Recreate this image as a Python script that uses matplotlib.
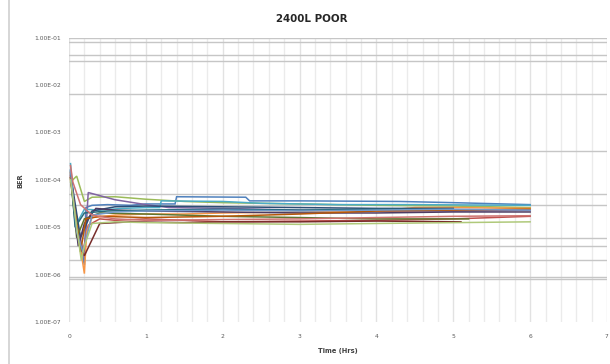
import matplotlib
matplotlib.use("Agg")
import matplotlib.pyplot as plt
from matplotlib.ticker import FixedLocator, FuncFormatter, MultipleLocator, NullFormatter
from matplotlib.lines import Line2D

# BER traces per test run: (hours, BER)
run_times = [
    [0.02, 0.08, 0.15, 0.2, 0.22, 0.3, 0.5, 0.8, 1.0, 1.38, 1.4, 2.3, 2.35, 3.0, 4.3, 5.0, 6.0],
    [0.02, 0.1, 0.18, 0.25, 0.4, 0.6, 1.0, 1.5, 2.0, 3.0, 4.0, 5.0, 6.0],
    [0.02, 0.1, 0.2, 0.3, 0.6, 1.0, 1.5, 2.0, 3.0, 4.0, 5.0, 6.0],
    [0.02, 0.1, 0.2, 0.25, 0.6, 1.0, 1.3, 2.0, 3.0, 4.0, 5.0, 6.0],
    [0.02, 0.05, 0.1, 0.2, 0.4, 0.7, 1.0, 1.18, 1.2, 2.0, 2.5, 3.5, 4.5, 6.0],
    [0.02, 0.1, 0.2, 0.23, 0.3, 0.6, 1.0, 1.5, 2.0, 3.0, 4.0, 4.5, 5.0, 6.0],
    [0.02, 0.15, 0.3, 0.6, 1.0, 2.0, 3.0, 4.0, 5.0],
    [0.02, 0.12, 0.2, 0.4, 0.8, 1.5, 2.0, 3.0, 4.0, 5.1],
    [0.02, 0.1, 0.2, 0.4, 1.0, 2.0, 3.0, 4.0, 5.2],
    [0.02, 0.12, 0.2, 0.35, 0.6, 1.0, 2.0, 3.0, 4.0, 5.0, 6.0],
    [0.02, 0.08, 0.2, 0.5, 1.0, 2.0, 3.0, 4.0, 5.0],
    [0.02, 0.15, 0.22, 0.4, 1.0, 2.0, 3.0, 4.0, 5.0, 6.0],
    [0.02, 0.1, 0.18, 0.3, 0.6, 1.0, 2.0, 3.0, 4.0, 5.0, 6.0],
    [0.02, 0.05, 0.15, 0.3, 0.6, 1.0, 2.0, 3.0, 4.0, 5.0, 6.0],
    [0.02, 0.1, 0.16, 0.2, 0.3, 0.6, 1.0, 2.0, 3.0, 4.0, 5.0, 6.0],
]
run_ber = [
    [1.6e-4, 2.0e-5, 4e-6, 1.6e-6, 2.6e-5, 2.9e-5, 3.0e-5, 2.9e-5, 3.1e-5, 3.1e-5, 4.4e-5, 4.3e-5, 3.6e-5, 3.6e-5, 3.5e-5, 3.3e-5, 3.0e-5],
    [1.2e-4, 8e-6, 3e-6, 1.1e-5, 1.5e-5, 1.4e-5, 1.5e-5, 1.4e-5, 1.3e-5, 1.35e-5, 1.4e-5, 1.5e-5, 1.7e-5],
    [9e-5, 1.2e-4, 3.5e-5, 4.3e-5, 4.4e-5, 3.9e-5, 3.5e-5, 3.3e-5, 3.1e-5, 2.9e-5, 2.8e-5, 2.6e-5],
    [1.1e-4, 1.5e-5, 2.2e-6, 5.4e-5, 3.8e-5, 3.0e-5, 2.6e-5, 2.5e-5, 2.3e-5, 2.2e-5, 2.2e-5, 2.3e-5],
    [2.2e-4, 5e-5, 1.2e-5, 2.4e-5, 2.3e-5, 2.5e-5, 2.6e-5, 2.6e-5, 3.6e-5, 3.5e-5, 3.2e-5, 3.0e-5, 3.0e-5, 2.9e-5],
    [1e-4, 1.2e-5, 1.05e-6, 8e-6, 1.6e-5, 1.8e-5, 1.9e-5, 1.9e-5, 2.0e-5, 2.1e-5, 2.2e-5, 2.6e-5, 2.6e-5, 2.5e-5],
    [1.3e-4, 6e-6, 2.2e-5, 2.7e-5, 2.8e-5, 2.7e-5, 2.6e-5, 2.5e-5, 2.5e-5],
    [1.4e-4, 5e-6, 2.5e-6, 1.2e-5, 1.3e-5, 1.25e-5, 1.3e-5, 1.3e-5, 1.35e-5, 1.3e-5],
    [1.1e-4, 6e-6, 1.5e-5, 2.0e-5, 1.9e-5, 1.7e-5, 1.6e-5, 1.5e-5, 1.5e-5],
    [1.2e-4, 4e-6, 1.2e-5, 2.5e-5, 2.3e-5, 2.2e-5, 2.1e-5, 2.0e-5, 2.0e-5, 2.1e-5, 2.1e-5],
    [1.5e-4, 1e-5, 2e-5, 2.2e-5, 2.3e-5, 2.4e-5, 2.3e-5, 2.4e-5, 2.4e-5],
    [1.1e-4, 3e-6, 1.5e-5, 1.7e-5, 1.6e-5, 1.7e-5, 1.9e-5, 2.2e-5, 2.3e-5, 2.4e-5],
    [1.6e-4, 8e-6, 3e-6, 1.8e-5, 2.1e-5, 2.2e-5, 2.3e-5, 2.2e-5, 2.3e-5, 2.4e-5, 2.3e-5],
    [2.0e-4, 9e-5, 3e-5, 1.8e-5, 1.5e-5, 1.4e-5, 1.45e-5, 1.5e-5, 1.6e-5, 1.7e-5, 1.75e-5],
    [1e-4, 1e-5, 2e-6, 4e-6, 1.2e-5, 1.3e-5, 1.25e-5, 1.2e-5, 1.15e-5, 1.2e-5, 1.25e-5, 1.3e-5],
]
run_colors = [
    "#4F81BD", "#C0504D", "#9BBB59", "#8064A2", "#4BACC6", "#F79646",
    "#2C4D75", "#772C2A", "#5F7530", "#4D3B62", "#276A7C", "#B65708",
    "#729ACA", "#CD7371", "#AFC97A",
]

title = "2400L POOR"
x_label = "Time (Hrs)"
y_label = "BER"
x_ticks = [0, 1, 2, 3, 4, 5, 6, 7]
y_ticks = [1e-7, 1e-6, 1e-5, 1e-4, 1e-3, 1e-2, 1e-1]
# horizontal rules of the log grid that show at this resolution
h_rules = [8e-2, 4.4e-2, 3.3e-2, 6.4e-3, 1e-3, 4e-4, 5e-5, 3e-5, 1e-5, 6e-6, 4e-6, 2e-6, 9e-7, 8e-7]

fig = plt.figure(figsize=(6.10, 3.64), dpi=100)
fig.patch.set_facecolor("white")
ax = fig.add_axes([69 / 610, 1 - 322 / 364, (607 - 69) / 610, (322 - 37.7) / 364])

ax.set_yscale("log")
ax.set_xlim(0, 7)
ax.set_ylim(1e-7, 1e-1)

# light vertical grid every 0.2 h
ax.xaxis.set_major_locator(FixedLocator(x_ticks))
ax.xaxis.set_minor_locator(MultipleLocator(0.2))
ax.grid(True, which="minor", axis="x", color="#ebebeb", linewidth=1.0)
ax.grid(True, which="major", axis="x", color="#e2e2e2", linewidth=1.0)

ax.yaxis.set_major_locator(FixedLocator(y_ticks))
ax.yaxis.set_minor_locator(FixedLocator(h_rules))
ax.yaxis.set_minor_formatter(NullFormatter())
ax.grid(True, which="minor", axis="y", color="#c6c6c6", linewidth=1.0)
ax.axhline(1e-1, color="#c6c6c6", linewidth=1.0)
ax.yaxis.set_major_formatter(FuncFormatter(lambda v, p: f"{v:.2E}"))

ax.tick_params(axis="both", which="both", length=0)
ax.tick_params(axis="y", labelsize=4.3, labelcolor="#595959", pad=6)
ax.tick_params(axis="x", labelsize=4.3, labelcolor="#595959", pad=9)
for sp in ax.spines.values():
    sp.set_visible(False)
ax.set_axisbelow(True)

for t, v, c in zip(run_times, run_ber, run_colors):
    ax.plot(t, v, color=c, linewidth=1.1, solid_joinstyle="miter")

fig.text(312 / 610, 1 - 19 / 364, title, ha="center", va="center",
         fontsize=7.4, fontweight="bold", color="#262626")
fig.text(338 / 610, 1 - 351 / 364, x_label, ha="center", va="center",
         fontsize=4.8, fontweight="bold", color="#404040")
fig.text(20 / 610, 1 - 181 / 364, y_label, ha="center", va="center",
         rotation=90, fontsize=4.8, fontweight="bold", color="#404040")

# chart-area border on the left
fig.add_artist(Line2D([8.5 / 610, 8.5 / 610], [0, 1], transform=fig.transFigure,
                      color="#d0d0d0", linewidth=1.2))

fig.savefig("out.png", dpi=100, facecolor="white")
